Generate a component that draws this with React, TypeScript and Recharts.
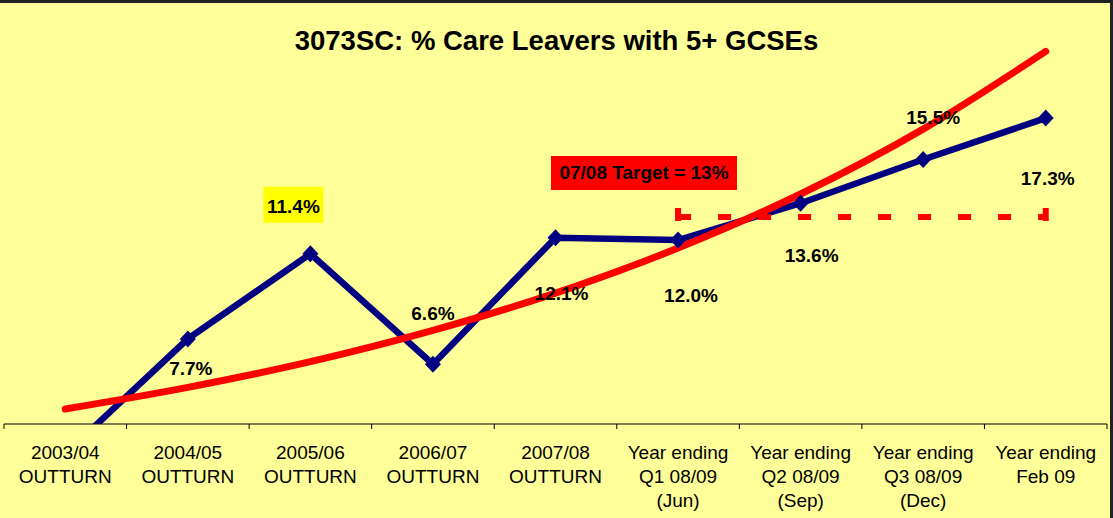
import { LabelList, Line, LineChart, XAxis, YAxis } from "recharts";

const periods = [
  "2003/04\nOUTTURN",
  "2004/05\nOUTTURN",
  "2005/06\nOUTTURN",
  "2006/07\nOUTTURN",
  "2007/08\nOUTTURN",
  "Year ending\nQ1 08/09\n(Jun)",
  "Year ending\nQ2 08/09\n(Sep)",
  "Year ending\nQ3 08/09\n(Dec)",
  "Year ending\nFeb 09",
];
const careLeavers = [2.7, 7.7, 11.4, 6.6, 12.1, 12.0, 13.6, 15.5, 17.3];
const trend = [4.65, 5.59, 6.71, 8.07, 9.69, 11.65, 14.0, 16.82, 20.2];
const target = [null, null, null, null, null, 13, 13, 13, 13];
const valueLabels = ["", "7.7%", "11.4%", "6.6%", "12.1%", "12.0%", "13.6%", "15.5%", "17.3%"];

const data = periods.map((period, i) => ({
  period,
  value: careLeavers[i],
  trend: trend[i],
  target: target[i],
}));

const W = 1113;
const H = 518;
const MARGIN = { top: 33, right: 6, bottom: 0, left: 4 };
const BAND = (W - MARGIN.left - MARGIN.right) / periods.length;
const FONT = "'Liberation Sans', Arial, sans-serif";
const NAVY = "#000080";
const RED = "#ff0000";

// where each value label sits relative to its marker
const labelOffset: Record<number, [number, number]> = {
  1: [3, 36],
  2: [-17, -41],
  3: [0, -44],
  4: [6, 62],
  5: [13, 62],
  6: [11, 59],
  7: [10, -36],
  8: [2, 67],
};

function PeriodTick(props: any) {
  const { x, y, payload, index } = props;
  const lines = String(payload.value).split("\n");
  const half = BAND / 2;
  return (
    <g>
      <line x1={x - half} x2={x - half} y1={y} y2={y + 5} stroke="#000" />
      {index === periods.length - 1 && (
        <line x1={x + half} x2={x + half} y1={y} y2={y + 5} stroke="#000" />
      )}
      <text textAnchor="middle" fontFamily={FONT} fontSize={19} fill="#000">
        {lines.map((l, i) => (
          <tspan key={i} x={x} y={y + 35 + i * 24}>
            {l}
          </tspan>
        ))}
      </text>
    </g>
  );
}

function Diamond(props: any) {
  const { cx, cy, index } = props;
  if (cx == null || cy == null) return <g key={`d${index}`} />;
  return (
    <polygon
      key={`d${index}`}
      points={`${cx},${cy - 8.5} ${cx + 8},${cy} ${cx},${cy + 8.5} ${cx - 8},${cy}`}
      fill={NAVY}
    />
  );
}

function TargetCap(props: any) {
  const { cx, cy, index } = props;
  if (cx == null || cy == null || (index !== 5 && index !== periods.length - 1)) {
    return <g key={`t${index}`} />;
  }
  return <rect key={`t${index}`} x={cx - 3} y={cy - 9} width={6} height={13} fill={RED} />;
}

function ValueLabel(props: any) {
  const { x, y, index } = props;
  const text = valueLabels[index];
  const off = labelOffset[index];
  if (!text || !off) return null;
  const tx = x + off[0];
  const ty = y + off[1];
  return (
    <g>
      {index === 2 && <rect x={tx - 30} y={ty - 26} width={60} height={36} fill="#ffff00" />}
      <text x={tx} y={ty} textAnchor="middle" fontFamily={FONT} fontWeight="bold" fontSize={19} fill="#000">
        {text}
      </text>
    </g>
  );
}

export default function App() {
  return (
    <div
      style={{
        position: "absolute",
        left: 0,
        top: 0,
        width: W,
        height: H,
        background: "#ffff99",
        fontFamily: FONT,
        boxSizing: "border-box",
      }}
    >
      <LineChart width={W} height={H} data={data} margin={MARGIN}>
        <XAxis
          dataKey="period"
          interval={0}
          height={94}
          tickLine={false}
          tickSize={0}
          tickMargin={0}
          axisLine={{ stroke: "#000", strokeWidth: 1 }}
          padding={{ left: BAND / 2, right: BAND / 2 }}
          tick={<PeriodTick />}
        />
        <YAxis hide domain={[4, 21]} allowDataOverflow />
        <Line
          dataKey="value"
          stroke={NAVY}
          strokeWidth={6.5}
          dot={<Diamond />}
          activeDot={false}
          isAnimationActive={false}
        >
          <LabelList dataKey="value" content={<ValueLabel />} />
        </Line>
        <Line
          dataKey="trend"
          type="monotone"
          stroke={RED}
          strokeWidth={7}
          strokeLinecap="round"
          dot={false}
          activeDot={false}
          isAnimationActive={false}
        />
        <Line
          dataKey="target"
          stroke={RED}
          strokeWidth={6}
          strokeDasharray="13 27"
          dot={<TargetCap />}
          activeDot={false}
          isAnimationActive={false}
        />
      </LineChart>
      <div
        style={{
          position: "absolute",
          left: 0,
          top: 25,
          width: W,
          textAlign: "center",
          fontSize: 27.5,
          fontWeight: "bold",
          color: "#000",
          lineHeight: "32px",
        }}
      >
        3073SC: % Care Leavers with 5+ GCSEs
      </div>
      <div
        style={{
          position: "absolute",
          left: 551,
          top: 156,
          width: 186,
          height: 34,
          background: RED,
          color: "#000",
          fontSize: 19,
          fontWeight: "bold",
          lineHeight: "34px",
          textAlign: "center",
        }}
      >
        07/08 Target = 13%
      </div>
      <div
        style={{
          position: "absolute",
          left: 0,
          top: 0,
          width: W,
          height: H,
          borderTop: "3px solid #222",
          borderRight: "3px solid #222",
          boxSizing: "border-box",
          pointerEvents: "none",
        }}
      />
    </div>
  );
}
